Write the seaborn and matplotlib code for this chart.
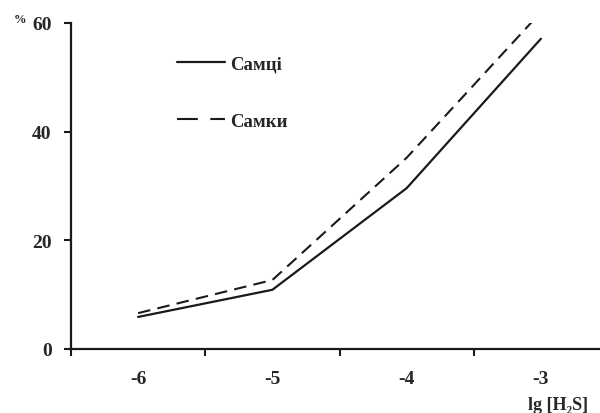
import pandas as pd
import matplotlib
matplotlib.use('Agg')
import matplotlib.pyplot as plt
import seaborn as sns
from matplotlib.ticker import FixedLocator

# lg [H2S] concentrations and response, %
lg_conc = [-6, -5, -4, -3]
tick_labels = ['-6', '-5', '-4', '-3']
males = [5.9, 10.9, 29.6, 57.1]     # Самці
females = [6.6, 12.7, 35.2, 62.0]   # Самки

sns.set_style('ticks')
plt.rcParams['font.family'] = ['Liberation Serif', 'DejaVu Serif']
plt.rcParams['font.weight'] = 'bold'

df = pd.DataFrame({'x': lg_conc, 'males': males, 'females': females})

fig = plt.figure(figsize=(6, 4.14), dpi=100)
ax = fig.add_axes([71 / 600, 64 / 414, 529 / 600, 326 / 414])

sns.lineplot(data=df, x='x', y='males', color='#1a1a1a', lw=1.6,
             label='Самці', ax=ax)
sns.lineplot(data=df, x='x', y='females', color='#1a1a1a', lw=1.5,
             linestyle=(0, (6, 3.5)), label='Самки', ax=ax)

ax.set_xlim(-6.5, -2.56)
ax.set_ylim(0, 60)
ax.set_xticks(lg_conc)
ax.set_xticklabels(tick_labels)
ax.xaxis.set_minor_locator(FixedLocator([-6.5, -5.5, -4.5, -3.5]))
ax.set_yticks([0, 20, 40, 60])
ax.tick_params(axis='x', which='major', length=0, pad=15, labelsize=14)
ax.tick_params(axis='x', which='minor', length=5, width=1.5, color='#1a1a1a')
ax.tick_params(axis='y', length=5, width=1.5, pad=9, labelsize=14,
               color='#1a1a1a')
for lab in ax.get_xticklabels() + ax.get_yticklabels():
    lab.set_fontweight('bold')

sns.despine(ax=ax)
for s in ['left', 'bottom']:
    ax.spines[s].set_linewidth(1.6)
    ax.spines[s].set_color('#1a1a1a')
ax.set_xlabel('')
ax.set_ylabel('')

leg = ax.legend(loc='upper left', bbox_to_anchor=(177 / 600, 1 - 56 / 414),
                bbox_transform=fig.transFigure, frameon=False,
                handlelength=2.55, handletextpad=0.3, labelspacing=2.15,
                borderpad=0, borderaxespad=0,
                prop={'weight': 'bold', 'size': 13.5})
leg.get_lines()[1].set_dashes([10, 6])

fig.text(20 / 600, 1 - 20 / 414, '%', fontsize=9, fontweight='bold',
         ha='center', va='center')
fig.text(558 / 600, 1 - 406 / 414, 'lg [H₂S]', fontsize=13,
         fontweight='bold', ha='center', va='center')

fig.savefig('out.png', dpi=100)
